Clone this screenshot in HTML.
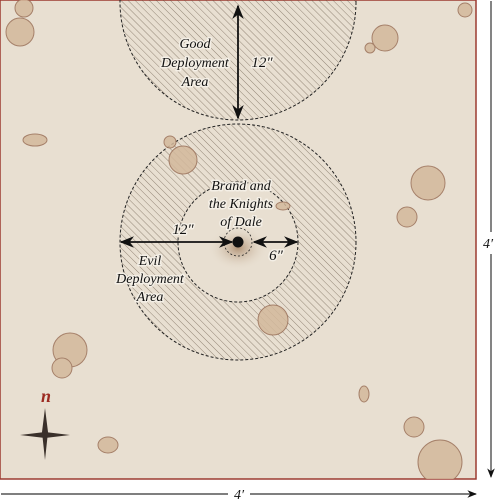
<!DOCTYPE html>
<html><head><meta charset="utf-8"><style>
html,body{margin:0;padding:0;background:#fff;width:500px;height:500px;overflow:hidden}
svg{display:block}
text{font-family:"Liberation Serif",serif;font-style:italic;fill:#111}
.lbl{paint-order:stroke;stroke:#f4efe6;stroke-width:3px;stroke-linejoin:round}
</style></head><body>
<svg width="500" height="500" viewBox="0 0 500 500">
<defs>
<pattern id="hatch" width="5" height="5" patternUnits="userSpaceOnUse" patternTransform="rotate(-45)">
<line x1="0" y1="0" x2="0" y2="5" stroke="#5a4a3a" stroke-width="1" opacity="0.6"/>
</pattern>
<radialGradient id="glow" cx="0.5" cy="0.5" r="0.5">
<stop offset="0" stop-color="#9a7350" stop-opacity="0.7"/>
<stop offset="1" stop-color="#e6dccd" stop-opacity="0"/>
</radialGradient>
<marker id="ah" viewBox="0 0 10 10" refX="9" refY="5" markerWidth="8" markerHeight="8" orient="auto-start-reverse">
<path d="M0,1 L10,5 L0,9 L3,5 z" fill="#111"/>
</marker>
<clipPath id="mapclip"><rect x="0" y="0" width="476" height="479"/></clipPath>
</defs>
<rect x="0" y="0" width="476" height="479" fill="#e8dfd1" stroke="#9c3a30" stroke-width="1.5"/>
<g clip-path="url(#mapclip)">
<g>
<circle cx="238" cy="2" r="118" fill="url(#hatch)" stroke="#222" stroke-width="1" stroke-dasharray="3,2"/>
</g>
<g>
<path d="M120,242 a118,118 0 1,0 236,0 a118,118 0 1,0 -236,0 M178,242 a60,60 0 1,0 120,0 a60,60 0 1,0 -120,0z" fill="url(#hatch)" fill-rule="evenodd"/>
<circle cx="238" cy="242" r="118" fill="none" stroke="#222" stroke-width="1" stroke-dasharray="3,2"/>
<circle cx="238" cy="242" r="60" fill="none" stroke="#222" stroke-width="1" stroke-dasharray="3,2"/>
</g>
<ellipse cx="238" cy="248" rx="30" ry="22" fill="url(#glow)"/>
<circle cx="238" cy="242" r="14" fill="none" stroke="#222" stroke-width="0.8" stroke-dasharray="2,2"/>
<circle cx="238" cy="242" r="5.5" fill="#111"/>
<g fill="#d4b99c" stroke="#9a7058" stroke-width="1" opacity="0.85">
<circle cx="20" cy="32" r="14"/><circle cx="24" cy="8" r="9"/>
<circle cx="385" cy="38" r="13"/><circle cx="370" cy="48" r="5"/><circle cx="465" cy="10" r="7"/>
<circle cx="183" cy="160" r="14"/><circle cx="170" cy="142" r="6"/>
<circle cx="428" cy="183" r="17"/><circle cx="407" cy="217" r="10"/>
<circle cx="273" cy="320" r="15"/>
<circle cx="70" cy="350" r="17"/><circle cx="62" cy="368" r="10"/>
<circle cx="414" cy="427" r="10"/><circle cx="440" cy="462" r="22"/>
<ellipse cx="35" cy="140" rx="12" ry="6"/><ellipse cx="108" cy="445" rx="10" ry="8"/><ellipse cx="364" cy="394" rx="5" ry="8"/><ellipse cx="283" cy="206" rx="7" ry="4"/>
</g>
</g>
<line x1="238" y1="6" x2="238" y2="118" stroke="#111" stroke-width="1.8" marker-start="url(#ah)" marker-end="url(#ah)"/>
<line x1="121" y1="242" x2="232" y2="242" stroke="#111" stroke-width="1.8" marker-start="url(#ah)" marker-end="url(#ah)"/>
<line x1="254" y1="242" x2="297" y2="242" stroke="#111" stroke-width="1.8" marker-start="url(#ah)" marker-end="url(#ah)"/>
<g class="lbl" font-size="14" text-anchor="middle">
<text class="lbl" x="195" y="48">Good</text><text class="lbl" x="195" y="67">Deployment</text><text class="lbl" x="195" y="86">Area</text>
</g>
<text class="lbl" x="262" y="67" font-size="15" text-anchor="middle">12″</text>
<g font-size="14" text-anchor="middle">
<text class="lbl" x="241" y="190">Brand and</text><text class="lbl" x="241" y="208">the Knights</text><text class="lbl" x="241" y="226">of Dale</text>
</g>
<text class="lbl" x="183" y="234" font-size="15" text-anchor="middle">12″</text>
<text class="lbl" x="276" y="260" font-size="15" text-anchor="middle">6″</text>
<g font-size="14" text-anchor="middle">
<text class="lbl" x="150" y="265">Evil</text><text class="lbl" x="150" y="283">Deployment</text><text class="lbl" x="150" y="301">Area</text>
</g>
<g>
<text x="46" y="402" font-size="18" font-weight="bold" style="fill:#9c2a20" text-anchor="middle">n</text>
<path d="M45,408 L48,432 L45,460 L42,432z M20,435 L45,432 L70,435 L45,438z" fill="#3a302a"/>
</g>
<line x1="491" y1="1" x2="491" y2="477" stroke="#333" stroke-width="1.2" marker-end="url(#ah)"/>
<rect x="480" y="232" width="20" height="22" fill="#fff"/>
<text x="488" y="248" font-size="14" text-anchor="middle">4′</text>
<line x1="1" y1="494" x2="476" y2="494" stroke="#333" stroke-width="1.2" marker-end="url(#ah)"/>
<rect x="228" y="484" width="22" height="16" fill="#fff"/>
<text x="239" y="499" font-size="14" text-anchor="middle">4′</text>
</svg>
</body></html>
